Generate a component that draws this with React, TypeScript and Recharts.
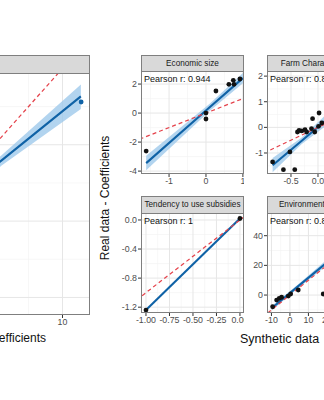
import React from "react";
import { ComposedChart, XAxis, YAxis, CartesianGrid, Line, Area, Scatter } from "recharts";

const FONT = "'Liberation Sans', Arial, Helvetica, sans-serif";

// ---- data ----
// overall panel (cropped on the left)
const overallPoints = [{ x: 11.37, y: 7.8 }];
const overallFit = [
  { x: -9.3, y: -6.7, band: [-8.2, -5.2] },
  { x: 5.5, y: 3.96, band: [3.62, 4.3] },
  { x: 11.35, y: 8.17, band: [7.35, 8.95] },
];
const overallIdentity = [{ x: -10, y: -10 }, { x: 12.5, y: 12.5 }];

// Economic size
const economicPoints = [
  { x: -1.62, y: -2.62 },
  { x: 0.0, y: 0.0 },
  { x: 0.0, y: -0.41 },
  { x: 0.27, y: 1.52 },
  { x: 0.62, y: 1.98 },
  { x: 0.74, y: 2.26 },
  { x: 0.76, y: 1.98 },
  { x: 0.92, y: 2.35 },
];
const economicFit = [
  { x: -1.62, y: -3.45, band: [-3.95, -2.95] },
  { x: 0.1, y: 0.4, band: [0.15, 0.65] },
  { x: 1.0, y: 2.41, band: [2.05, 2.77] },
];
const economicIdentity = [{ x: -1.8, y: -1.8 }, { x: 1.1, y: 1.1 }];

// Farm Characteristics
const farmPoints = [
  { x: -0.84, y: -1.35 },
  { x: -0.64, y: -1.65 },
  { x: -0.43, y: -1.65 },
  { x: -0.52, y: -0.96 },
  { x: -0.38, y: -0.18 },
  { x: -0.35, y: -0.12 },
  { x: -0.3, y: -0.14 },
  { x: -0.24, y: -0.09 },
  { x: -0.21, y: -0.18 },
  { x: -0.12, y: -0.05 },
  { x: -0.1, y: 0.34 },
  { x: -0.06, y: -0.18 },
  { x: 0.02, y: 0.56 },
  { x: 0.01, y: 0.04 },
  { x: 0.07, y: 0.17 },
];
const farmFit = [
  { x: -0.84, y: -1.48, band: [-1.75, -1.2] },
  { x: -0.3, y: -0.52, band: [-0.65, -0.4] },
  { x: 0.2, y: 0.37, band: [0.15, 0.6] },
];
const farmIdentity = [{ x: -1, y: -1 }, { x: 1, y: 1 }];

// Tendency to use subsidies
const subsidyPoints = [
  { x: -1.0, y: -1.24 },
  { x: 0.0, y: 0.02 },
];
const subsidyFit = [
  { x: -1.0, y: -1.24 },
  { x: 0.0, y: 0.02 },
];
const subsidyIdentity = [{ x: -1.1, y: -1.1 }, { x: 0.1, y: 0.1 }];

// Environmental
const environmentPoints = [
  { x: -9.35, y: -7.9 },
  { x: -7.2, y: -3.4 },
  { x: -5.8, y: -2.2 },
  { x: -4.5, y: -1.5 },
  { x: -0.9, y: -0.7 },
  { x: 0.4, y: 0.7 },
  { x: 4.5, y: 3.4 },
  { x: 18, y: 0.7 },
];
const environmentFit = [
  { x: -9.7, y: -8.7, band: [-10.2, -7.2] },
  { x: 5, y: 6.5, band: [5.3, 7.7] },
  { x: 25, y: 27.1, band: [24.8, 29.4] },
];
const environmentIdentity = [{ x: -15, y: -15 }, { x: 45, y: 45 }];

const BLUE = "#0f62a6";
const BAND = "#9fc9eb";
const RED = "#e5434c";
const BORDER = "#7f7f7f";

const int = (v: number) => String(v);
const f1 = (v: number) => v.toFixed(1);
const f2 = (v: number) => v.toFixed(2);

interface PanelProps {
  title: string;
  pearson: string;
  left: number;
  top: number;
  width: number;
  height: number;
  stripTop: number;
  xDomain: [number, number];
  yDomain: [number, number];
  xTicks: number[];
  yTicks: number[];
  xMinor: number[];
  yMinor: number[];
  xFmt: (v: number) => string;
  yFmt: (v: number) => string;
  points: { x: number; y: number }[];
  fit: { x: number; y: number; band?: number[] }[];
  identity: { x: number; y: number }[];
  pointColor?: string;
  showY?: boolean;
  showBand?: boolean;
}

function Panel(p: PanelProps) {
  const yW = p.showY === false ? 0 : 32;
  const xH = 20;
  const tickStyle = { fontSize: 8.8, fill: "#4d4d4d", fontFamily: FONT };
  return (
    <>
      <div
        style={{
          position: "absolute",
          left: p.left,
          top: p.stripTop,
          width: p.width,
          height: p.top - p.stripTop + 1,
          boxSizing: "border-box",
          background: "#d9d9d9",
          border: `1px solid ${BORDER}`,
          fontSize: 8.2,
          color: "#1a1a1a",
          fontFamily: FONT,
          textAlign: "center",
          lineHeight: `${p.top - p.stripTop - 1}px`,
          whiteSpace: "nowrap",
          overflow: "hidden",
        }}
      >
        {p.title}
      </div>
      <div style={{ position: "absolute", left: p.left - yW, top: p.top }}>
        <ComposedChart
          width={p.width + yW}
          height={p.height + xH}
          margin={{ top: 0, right: 0, bottom: 0, left: 0 }}
        >
          <CartesianGrid
            horizontalValues={p.yMinor}
            verticalValues={p.xMinor}
            stroke="#f1f1f1"
            strokeWidth={0.6}
          />
          <CartesianGrid
            horizontalValues={p.yTicks}
            verticalValues={p.xTicks}
            stroke="#e6e6e6"
            strokeWidth={1}
          />
          <XAxis
            dataKey="x"
            type="number"
            domain={p.xDomain}
            ticks={p.xTicks}
            allowDataOverflow
            height={xH}
            tickSize={3}
            tickMargin={1}
            axisLine={false}
            tickLine={{ stroke: "#333" }}
            tick={tickStyle}
            tickFormatter={p.xFmt}
            interval={0}
          />
          <YAxis
            dataKey="y"
            type="number"
            domain={p.yDomain}
            ticks={p.yTicks}
            allowDataOverflow
            hide={p.showY === false}
            width={yW}
            tickSize={3}
            tickMargin={1}
            axisLine={false}
            tickLine={{ stroke: "#333" }}
            tick={tickStyle}
            tickFormatter={p.yFmt}
            interval={0}
          />
          {p.showBand !== false && (
            <Area
              data={p.fit}
              dataKey="band"
              type="linear"
              stroke="none"
              fill={BAND}
              fillOpacity={0.8}
              isAnimationActive={false}
            />
          )}
          <Line
            data={p.fit}
            dataKey="y"
            type="linear"
            stroke={BLUE}
            strokeWidth={2.1}
            dot={false}
            activeDot={false}
            isAnimationActive={false}
          />
          <Scatter
            data={p.points}
            dataKey="y"
            isAnimationActive={false}
            shape={(s: any) => <circle cx={s.cx} cy={s.cy} r={2.4} fill={p.pointColor || "#111"} />}
          />
          <Line
            data={p.identity}
            dataKey="y"
            type="linear"
            stroke={RED}
            strokeWidth={1.25}
            strokeDasharray="4 3"
            dot={false}
            activeDot={false}
            isAnimationActive={false}
          />
        </ComposedChart>
      </div>
      <div
        style={{
          position: "absolute",
          left: p.left,
          top: p.top,
          width: p.width,
          height: p.height,
          boxSizing: "border-box",
          border: `1px solid ${BORDER}`,
          pointerEvents: "none",
        }}
      />
      <div
        style={{
          position: "absolute",
          left: p.left + 3,
          top: p.top + 4,
          fontSize: 9,
          lineHeight: 1,
          color: "#111",
          fontFamily: FONT,
          whiteSpace: "nowrap",
        }}
      >
        {p.pearson}
      </div>
    </>
  );
}

export default function App() {
  return (
    <div
      style={{
        position: "absolute",
        left: 0,
        top: 0,
        width: 324,
        height: 400,
        overflow: "hidden",
        background: "#fff",
        fontFamily: FONT,
      }}
    >
      <Panel
        title="All coefficients"
        pearson="Pearson r: 0.96"
        left={-200.4}
        top={73}
        width={290.4}
        height={242}
        stripTop={55}
        xDomain={[-9.3, 12.05]}
        yDomain={[-6.15, 9.7]}
        xTicks={[-5, 0, 5, 10]}
        yTicks={[-5, 0, 5]}
        xMinor={[-7.5, -2.5, 2.5, 7.5]}
        yMinor={[-2.5, 2.5, 7.5]}
        xFmt={int}
        yFmt={int}
        points={overallPoints}
        fit={overallFit}
        identity={overallIdentity}
        pointColor={BLUE}
        showY={false}
      />
      <Panel
        title="Economic size"
        pearson="Pearson r: 0.944"
        left={141}
        top={71}
        width={103}
        height={103}
        stripTop={55}
        xDomain={[-1.76, 1.03]}
        yDomain={[-4.2, 2.9]}
        xTicks={[-1, 0, 1]}
        yTicks={[-4, -2, 0, 2]}
        xMinor={[-1.5, -0.5, 0.5]}
        yMinor={[-3, -1, 1]}
        xFmt={int}
        yFmt={int}
        points={economicPoints}
        fit={economicFit}
        identity={economicIdentity}
      />
      <Panel
        title="Farm Characteristics"
        pearson="Pearson r: 0.876"
        left={267}
        top={71}
        width={103}
        height={103}
        stripTop={55}
        xDomain={[-0.944, 0.963]}
        yDomain={[-1.82, 2.2]}
        xTicks={[-0.5, 0, 0.5]}
        yTicks={[-1, 0, 1, 2]}
        xMinor={[-0.75, -0.25, 0.25, 0.75]}
        yMinor={[-1.5, -0.5, 0.5, 1.5]}
        xFmt={f1}
        yFmt={int}
        points={farmPoints}
        fit={farmFit}
        identity={farmIdentity}
      />
      <Panel
        title="Tendency to use subsidies"
        pearson="Pearson r: 1"
        left={141}
        top={213}
        width={103}
        height={100}
        stripTop={196}
        xDomain={[-1.053, 0.043]}
        yDomain={[-1.28, 0.096]}
        xTicks={[-1, -0.75, -0.5, -0.25, 0]}
        yTicks={[-1.2, -0.8, -0.4, 0]}
        xMinor={[-0.875, -0.625, -0.375, -0.125]}
        yMinor={[-1.0, -0.6, -0.2]}
        xFmt={f2}
        yFmt={f1}
        points={subsidyPoints}
        fit={subsidyFit}
        identity={subsidyIdentity}
        showBand={false}
      />
      <Panel
        title="Environmental factors"
        pearson="Pearson r: 0.812"
        left={267}
        top={213}
        width={103}
        height={100}
        stripTop={196}
        xDomain={[-12.4, 43.3]}
        yDomain={[-12.1, 55.3]}
        xTicks={[-10, 0, 10, 20, 30, 40]}
        yTicks={[0, 20, 40]}
        xMinor={[-5, 5, 15, 25, 35]}
        yMinor={[-10, 10, 30, 50]}
        xFmt={int}
        yFmt={int}
        points={environmentPoints}
        fit={environmentFit}
        identity={environmentIdentity}
      />
      <div
        style={{
          position: "absolute",
          left: 105,
          top: 198,
          transform: "translate(-50%, -50%) rotate(-90deg)",
          fontSize: 12,
          color: "#111",
          whiteSpace: "nowrap",
        }}
      >
        Real data - Coefficients
      </div>
      <div
        style={{
          position: "absolute",
          left: 240,
          top: 333,
          fontSize: 12.5,
          lineHeight: 1,
          color: "#111",
          whiteSpace: "nowrap",
        }}
      >
        Synthetic data
      </div>
      <div
        style={{
          position: "absolute",
          right: 324 - 46,
          top: 332,
          fontSize: 12,
          lineHeight: 1,
          color: "#111",
          whiteSpace: "nowrap",
        }}
      >
        Synthetic data - Coefficients
      </div>
    </div>
  );
}
